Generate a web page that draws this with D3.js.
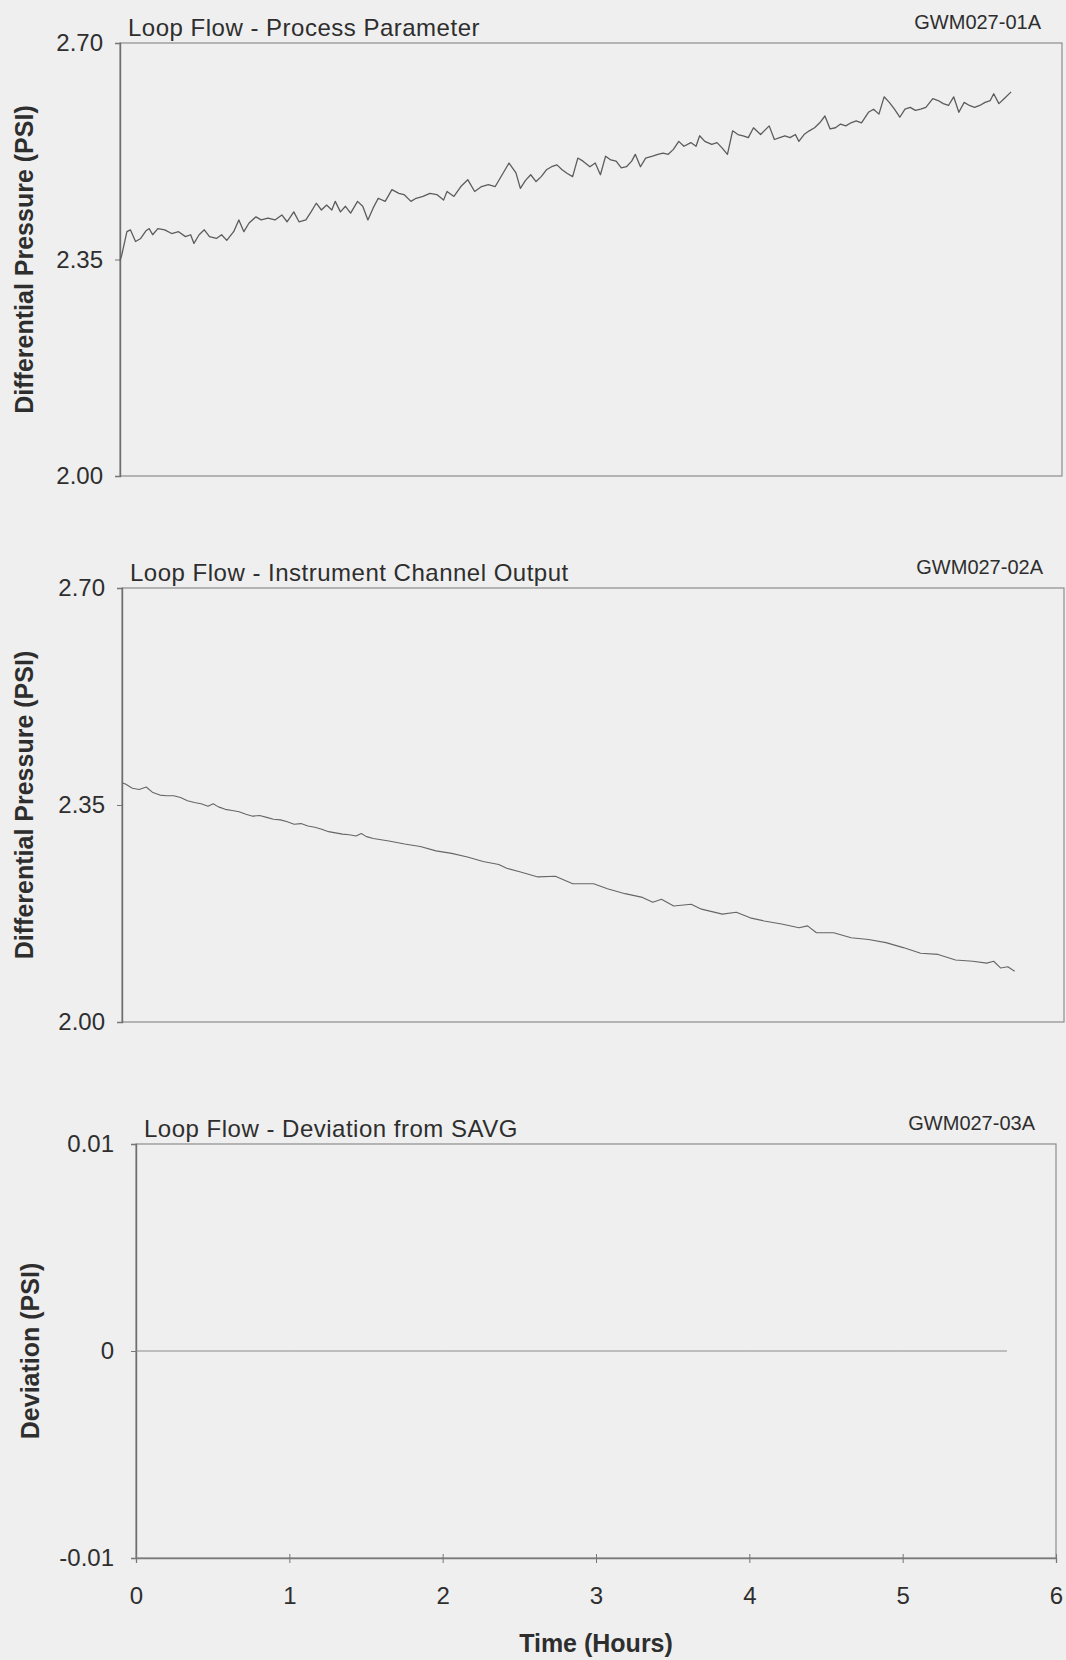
<!DOCTYPE html>
<html>
<head>
<meta charset="utf-8">
<script src="https://cdn.jsdelivr.net/npm/d3@7/dist/d3.min.js"></script>
<style>
	body { margin: 0; background: #efefef; }
	svg { display: block; font-family: 'Liberation Sans', Arial, sans-serif; }
</style>
</head>
<body>
<div id="chart"></div>
<script>
// x axis, shared by all three panels
const hourTicks = [0, 1, 2, 3, 4, 5, 6]

// Loop Flow - Process Parameter (GWM027-01A)
const processHours = [0, 0.011, 0.044, 0.066, 0.099, 0.132, 0.164, 0.186, 0.208, 0.241, 0.285, 0.329, 0.373, 0.417,
	0.450, 0.471, 0.504, 0.537, 0.570, 0.614, 0.647, 0.680, 0.724, 0.757, 0.789, 0.822, 0.866, 0.899, 0.943, 0.987,
	1.031, 1.064, 1.107, 1.140, 1.184, 1.217, 1.250, 1.283, 1.316, 1.349, 1.371, 1.404, 1.436, 1.469, 1.513, 1.546,
	1.579, 1.612, 1.645, 1.689, 1.732, 1.776, 1.809, 1.853, 1.886, 1.930, 1.974, 2.018, 2.061, 2.083, 2.127, 2.171,
	2.215, 2.259, 2.303, 2.346, 2.390, 2.434, 2.478, 2.522, 2.550, 2.583, 2.616, 2.650, 2.683, 2.716, 2.749, 2.783,
	2.816, 2.849, 2.883, 2.916, 2.949, 2.993, 3.027, 3.060, 3.093, 3.126, 3.160, 3.193, 3.226, 3.259, 3.282, 3.315,
	3.348, 3.392, 3.426, 3.459, 3.492, 3.525, 3.559, 3.592, 3.636, 3.669, 3.692, 3.725, 3.769, 3.803, 3.836, 3.869,
	3.902, 3.936, 3.969, 4.002, 4.035, 4.080, 4.135, 4.168, 4.202, 4.235, 4.268, 4.302, 4.324, 4.357, 4.390, 4.424,
	4.457, 4.490, 4.523, 4.557, 4.590, 4.623, 4.656, 4.689, 4.723, 4.767, 4.800, 4.834, 4.867, 4.900, 4.933, 4.967,
	5.000, 5.033, 5.066, 5.100, 5.133, 5.177, 5.211, 5.244, 5.277, 5.310, 5.343, 5.377, 5.410, 5.443, 5.476, 5.510,
	5.543, 5.565, 5.598, 5.631, 5.676]
const processPsi = [2.348, 2.357, 2.395, 2.398, 2.379, 2.384, 2.396, 2.400, 2.390, 2.400, 2.398, 2.392, 2.395, 2.387,
	2.390, 2.376, 2.390, 2.398, 2.387, 2.384, 2.390, 2.381, 2.395, 2.414, 2.395, 2.409, 2.419, 2.414, 2.417, 2.414,
	2.422, 2.411, 2.427, 2.411, 2.414, 2.427, 2.441, 2.430, 2.438, 2.430, 2.444, 2.427, 2.436, 2.425, 2.444, 2.436,
	2.414, 2.433, 2.449, 2.444, 2.463, 2.457, 2.455, 2.444, 2.449, 2.452, 2.457, 2.455, 2.446, 2.460, 2.452, 2.468,
	2.479, 2.460, 2.468, 2.471, 2.468, 2.487, 2.506, 2.490, 2.465, 2.478, 2.487, 2.476, 2.484, 2.495, 2.500, 2.503,
	2.495, 2.489, 2.484, 2.514, 2.509, 2.500, 2.506, 2.487, 2.517, 2.511, 2.509, 2.498, 2.500, 2.509, 2.520, 2.500,
	2.514, 2.517, 2.520, 2.522, 2.520, 2.528, 2.541, 2.533, 2.539, 2.533, 2.550, 2.541, 2.536, 2.539, 2.530, 2.520,
	2.558, 2.552, 2.550, 2.547, 2.563, 2.552, 2.566, 2.544, 2.547, 2.550, 2.547, 2.552, 2.541, 2.552, 2.558, 2.563,
	2.571, 2.582, 2.561, 2.563, 2.569, 2.566, 2.571, 2.574, 2.571, 2.588, 2.593, 2.585, 2.613, 2.604, 2.593, 2.580,
	2.593, 2.596, 2.591, 2.593, 2.596, 2.610, 2.607, 2.602, 2.599, 2.613, 2.588, 2.604, 2.599, 2.596, 2.599, 2.604,
	2.607, 2.618, 2.602, 2.610, 2.621]

// Loop Flow - Instrument Channel Output (GWM027-02A)
const channelHours = [0, 0.022, 0.066, 0.110, 0.154, 0.197, 0.241, 0.285, 0.329, 0.373, 0.417, 0.461, 0.504, 0.548,
	0.581, 0.614, 0.658, 0.702, 0.746, 0.789, 0.833, 0.877, 0.921, 0.965, 1.009, 1.053, 1.096, 1.140, 1.184, 1.228,
	1.272, 1.316, 1.360, 1.404, 1.447, 1.491, 1.524, 1.557, 1.601, 1.7, 1.8, 1.9, 2.0, 2.1, 2.2, 2.3, 2.4, 2.45,
	2.539, 2.649, 2.760, 2.871, 3.004, 3.092, 3.204, 3.315, 3.381, 3.436, 3.514, 3.625, 3.691, 3.824, 3.913, 4.001,
	4.090, 4.201, 4.312, 4.367, 4.423, 4.533, 4.644, 4.755, 4.866, 4.976, 5.087, 5.198, 5.309, 5.419, 5.508, 5.552,
	5.597, 5.642, 5.686]
const channelPsi = [2.386, 2.384, 2.377, 2.375, 2.379, 2.370, 2.366, 2.365, 2.365, 2.362, 2.357, 2.354, 2.352, 2.348,
	2.352, 2.347, 2.343, 2.341, 2.339, 2.335, 2.332, 2.333, 2.330, 2.327, 2.326, 2.323, 2.319, 2.320, 2.316, 2.314,
	2.311, 2.307, 2.305, 2.303, 2.302, 2.300, 2.304, 2.299, 2.296, 2.292, 2.287, 2.283, 2.276, 2.272, 2.266, 2.259,
	2.254, 2.248, 2.242, 2.234, 2.235, 2.223, 2.223, 2.215, 2.207, 2.201, 2.193, 2.198, 2.187, 2.190, 2.182, 2.174,
	2.177, 2.168, 2.163, 2.158, 2.152, 2.155, 2.144, 2.144, 2.136, 2.133, 2.128, 2.120, 2.111, 2.109, 2.100, 2.098,
	2.095, 2.098, 2.087, 2.089, 2.082]

// Loop Flow - Deviation from SAVG (GWM027-03A)
const deviationHours = [0, 1, 2, 3, 4, 5, 5.68]
const deviationPsi = [0, 0, 0, 0, 0, 0, 0]

const pressureTicks = [2.00, 2.35, 2.70]
const pressureTickLabels = ['2.00', '2.35', '2.70']
const deviationTicks = [-0.01, 0, 0.01]
const deviationTickLabels = ['-0.01', '0', '0.01']

const W = 1066
const H = 1660
const ink = '#2e2e2e'

const panels = [
	{ title: 'Loop Flow - Process Parameter', code: 'GWM027-01A', yTitle: 'Differential Pressure (PSI)',
		hours: processHours, values: processPsi, domain: [2.0, 2.7],
		ticks: pressureTicks, tickLabels: pressureTickLabels,
		left: 120, right: 1062, top: 43, bottom: 476, pad: 12, titleX: 33,
		stroke: '#5c5c5c', strokeWidth: 1.3 },
	{ title: 'Loop Flow - Instrument Channel Output', code: 'GWM027-02A', yTitle: 'Differential Pressure (PSI)',
		hours: channelHours, values: channelPsi, domain: [2.0, 2.7],
		ticks: pressureTicks, tickLabels: pressureTickLabels,
		left: 122, right: 1064, top: 588, bottom: 1022, pad: 12, titleX: 33,
		stroke: '#666', strokeWidth: 1.1 },
	{ title: 'Loop Flow - Deviation from SAVG', code: 'GWM027-03A', yTitle: 'Deviation (PSI)',
		hours: deviationHours, values: deviationPsi, domain: [-0.01, 0.01],
		ticks: deviationTicks, tickLabels: deviationTickLabels,
		left: 136, right: 1056, top: 1144, bottom: 1558, pad: 17, titleX: 39, xAxis: true,
		stroke: '#8a8a8a', strokeWidth: 1 }
]

const svg = d3.select('#chart')
	.append('svg')
	.attr('width', W)
	.attr('height', H)
	.attr('viewBox', [0, 0, W, H])

svg.append('rect')
	.attr('width', W)
	.attr('height', H)
	.attr('fill', '#efefef')

panels.forEach(p => {
	const x = d3.scaleLinear().domain([0, 6]).range([p.left, p.right])
	const y = d3.scaleLinear().domain(p.domain).range([p.bottom, p.top])

	const g = svg.append('g')

	// plot frame
	g.append('rect')
		.attr('x', p.left)
		.attr('y', p.top)
		.attr('width', p.right - p.left)
		.attr('height', p.bottom - p.top)
		.attr('fill', 'none')
		.attr('stroke', '#8c8c8c')
		.attr('stroke-width', 1.2)

	const yAxis = d3.axisLeft(y)
		.tickValues(p.ticks)
		.tickFormat((d, i) => p.tickLabels[i])
		.tickSize(5)
		.tickPadding(p.pad)

	g.append('g')
		.attr('transform', `translate(${p.left},0)`)
		.call(yAxis)
		.call(a => a.select('.domain').attr('stroke', '#6e6e6e').attr('stroke-width', 1.4))
		.call(a => a.selectAll('.tick line').attr('stroke', '#777'))
		.call(a => a.selectAll('.tick text')
			.attr('fill', ink)
			.attr('font-size', 24)
			.attr('font-family', "'Liberation Sans', Arial, sans-serif"))

	if (p.xAxis) {
		const xAxis = d3.axisBottom(x)
			.tickValues(hourTicks)
			.tickFormat(d3.format('d'))
			.tickSize(5)
			.tickPadding(24)

		g.append('g')
			.attr('transform', `translate(0,${p.bottom})`)
			.call(xAxis)
			.call(a => a.select('.domain').attr('stroke', '#7a7a7a').attr('stroke-width', 1.3))
			.call(a => a.selectAll('.tick line').attr('stroke', '#777').attr('y1', -4))
			.call(a => a.selectAll('.tick text')
				.attr('fill', ink)
				.attr('font-size', 24)
				.attr('font-family', "'Liberation Sans', Arial, sans-serif"))

		svg.append('text')
			.attr('x', (p.left + p.right) / 2)
			.attr('y', 1652)
			.attr('text-anchor', 'middle')
			.attr('font-size', 25)
			.attr('font-weight', 'bold')
			.attr('fill', ink)
			.text('Time (Hours)')
	}

	const line = d3.line()
		.x(d => x(d[0]))
		.y(d => y(d[1]))

	g.append('path')
		.datum(d3.zip(p.hours, p.values))
		.attr('fill', 'none')
		.attr('stroke', p.stroke)
		.attr('stroke-width', p.strokeWidth)
		.attr('stroke-linejoin', 'round')
		.attr('d', line)

	// titles
	g.append('text')
		.attr('x', p.left + 8)
		.attr('y', p.top - 7)
		.attr('font-size', 24)
		.attr('letter-spacing', 0.5)
		.attr('fill', ink)
		.text(p.title)

	g.append('text')
		.attr('x', p.right - 21)
		.attr('y', p.top - 14)
		.attr('text-anchor', 'end')
		.attr('font-size', 20)
		.attr('fill', ink)
		.text(p.code)

	g.append('text')
		.attr('transform', `translate(${p.titleX},${(p.top + p.bottom) / 2}) rotate(-90)`)
		.attr('text-anchor', 'middle')
		.attr('font-size', 25)
		.attr('font-weight', 'bold')
		.attr('fill', ink)
		.text(p.yTitle)
})
</script>
</body>
</html>
